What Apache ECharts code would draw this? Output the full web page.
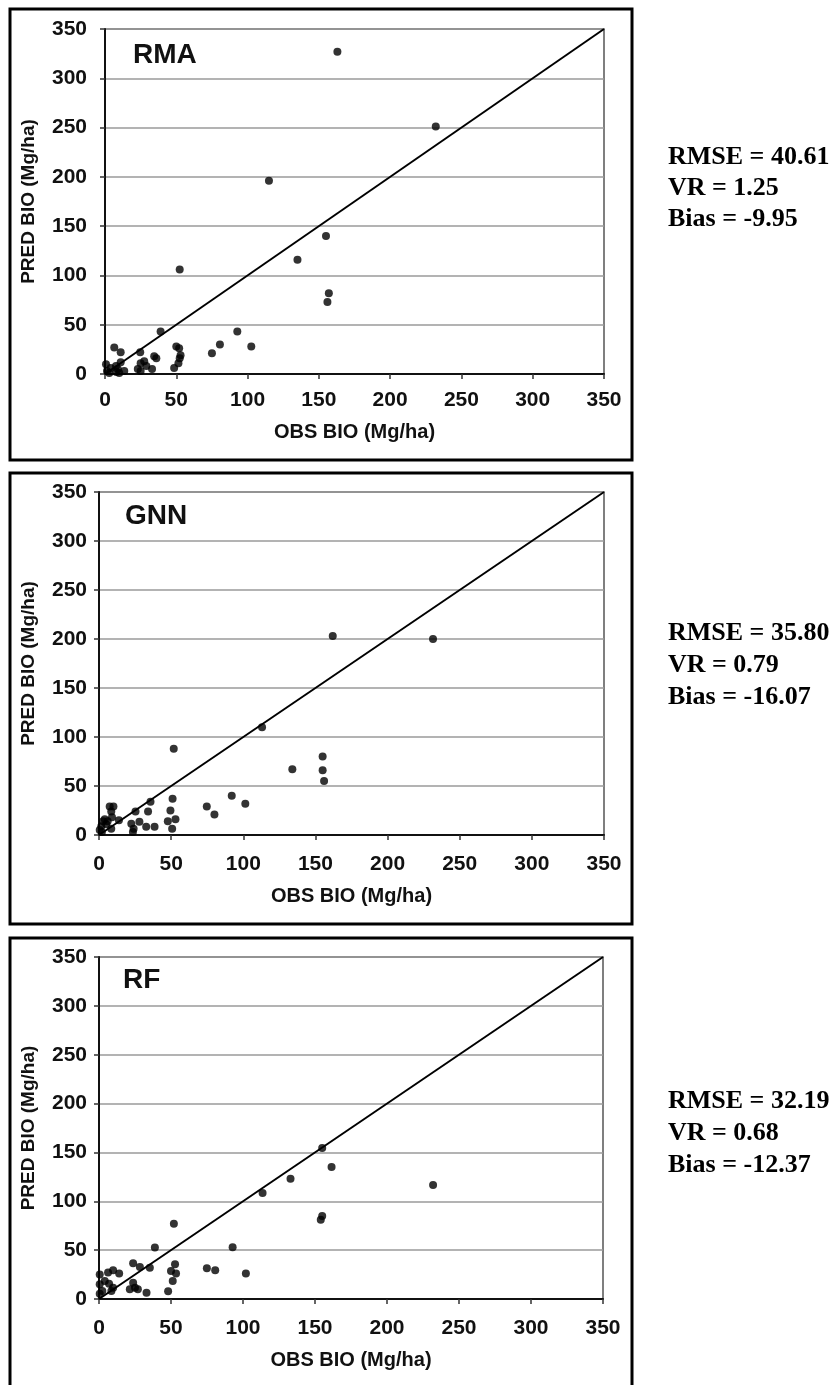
<!DOCTYPE html>
<html>
<head>
<meta charset="utf-8">
<script src="https://cdn.jsdelivr.net/npm/echarts@6/dist/echarts.min.js"></script>
<style>
html,body{margin:0;padding:0;background:#fff;}
#chart{width:832px;height:1385px;}
</style>
</head>
<body>
<div id="chart"></div>
<script>
// ---- data ----
const panelNames = ['RMA', 'GNN', 'RF'];
const axisTicks = [0, 50, 100, 150, 200, 250, 300, 350];
const oneToOne = [0, 350];

const rmaObs  = [0.7,1.4,3,4,6.5,7.7,9,10,11,11,13.5,8,23,25,25,24.7,27.5,29,33,34.5,36,39,48.5,50,51.5,52,52.4,53,52.4,75,80.6,92.8,102.6,115,135,155,156,157,163,232];
const rmaPred = [10,3,1,6,27,8,5,1,12,22,3,2,5,3,11,22,13,8,5,18,16,43,6,28,11,26,16,19,106,21,30,43,28,196,116,140,73,82,327,251];

const gnnObs  = [0.5,1.6,2.8,2,5,4,7.4,8.5,10,8.5,9,6,13.8,22.4,23.5,24,25.3,28,32.7,34,35.7,38.5,47.7,49.5,50.7,51,51.8,53,74.7,80,92,101.4,113,134,155,155,156,162,231.5];
const gnnPred = [5,9,14,3,11,16,29,24,29,6.5,18,14,15,11.6,3,6.5,24,13.6,8.5,24,34,8.5,14,25,6.5,37,88,16,29,21,40,32,110,67,80,66,55,203,200];

const rfObs  = [52,38.8,92.8,23.7,28.4,35.3,52.8,50,53.5,51.2,48,33,74.9,80.7,102,23.7,25,21.4,27,0.5,6.3,9.8,14,0.5,4,7,2.3,8.6,9.8,0.5,113.6,133,155,161.5,155,154,232];
const rfPred = [77,52.6,53,36.5,32.8,32,35.5,28.7,26,18.4,8,6.5,31.4,29.4,26,16.7,11.6,10,10,25,27,29.4,26,15,18.4,15.7,8.2,8.2,11.6,5.5,108.5,123,154.5,135,85,81,116.7];

const statsRMA = ['RMSE = 40.61', 'VR = 1.25', 'Bias = -9.95'];
const statsGNN = ['RMSE = 35.80', 'VR = 0.79', 'Bias = -16.07'];
const statsRF  = ['RMSE = 32.19', 'VR = 0.68', 'Bias = -12.37'];

// ---- layout ----
const zip = (a, b) => a.map((v, i) => [v, b[i]]);
const seriesData = [zip(rmaObs, rmaPred), zip(gnnObs, gnnPred), zip(rfObs, rfPred)];
const stats = [statsRMA, statsGNN, statsRF];

const grids = [
  {left: 105, top: 29, width: 499, height: 345},
  {left: 99, top: 492, width: 505, height: 343},
  {left: 99, top: 957, width: 504, height: 342}
];
const yLabelMargin = [18, 12, 12];
const xLabelMargin = [16, 19, 19];
const xNameGap = [48, 51, 51];
const yNameGap = [67, 61, 61];
const boxes = [
  {x: 10, y: 9, w: 622, h: 451},
  {x: 10, y: 473, w: 622, h: 451},
  {x: 10, y: 938, w: 622, h: 470}
];
const titlePos = [[133, 55], [125, 516], [123, 980]];
const statsX = 668;
const statsY = [[157, 188, 219], [633, 665, 697], [1101, 1133, 1165]];

const sans = 'Liberation Sans, Arial, sans-serif';
const serif = 'Liberation Serif, Times New Roman, serif';

const xAxes = [], yAxes = [], series = [], graphics = [];
grids.forEach((g, i) => {
  g.show = true;
  g.borderColor = '#555';
  g.borderWidth = 1.5;
  g.containLabel = false;
  xAxes.push({
    gridIndex: i, type: 'value', min: axisTicks[0], max: axisTicks[axisTicks.length - 1], interval: 50,
    axisLine: {show: true, onZero: false, lineStyle: {color: '#111', width: 2}},
    axisTick: {show: true, inside: false, length: 5, lineStyle: {color: '#333', width: 1.5}},
    axisLabel: {fontSize: 21, fontWeight: 'bold', color: '#111', fontFamily: sans, margin: xLabelMargin[i]},
    splitLine: {show: false},
    name: 'OBS BIO (Mg/ha)', nameLocation: 'middle', nameGap: xNameGap[i],
    nameTextStyle: {fontSize: 20, fontWeight: 'bold', color: '#111', fontFamily: sans}
  });
  yAxes.push({
    gridIndex: i, type: 'value', min: axisTicks[0], max: axisTicks[axisTicks.length - 1], interval: 50,
    axisLine: {show: true, onZero: false, lineStyle: {color: '#111', width: 2}},
    axisTick: {show: true, inside: false, length: 5, lineStyle: {color: '#333', width: 1.5}},
    axisLabel: {fontSize: 21, fontWeight: 'bold', color: '#111', fontFamily: sans, margin: yLabelMargin[i]},
    splitLine: {show: true, lineStyle: {color: '#9a9a9a', width: 1.5}},
    name: 'PRED BIO (Mg/ha)', nameLocation: 'middle', nameGap: yNameGap[i], nameRotate: 90,
    nameTextStyle: {fontSize: 19, fontWeight: 'bold', color: '#111', fontFamily: sans}
  });
  series.push({
    type: 'line', xAxisIndex: i, yAxisIndex: i, data: [[oneToOne[0], oneToOne[0]], [oneToOne[1], oneToOne[1]]],
    symbol: 'none', silent: true, lineStyle: {color: '#000', width: 2}, z: 2
  });
  series.push({
    type: 'scatter', xAxisIndex: i, yAxisIndex: i, data: seriesData[i],
    symbol: 'circle', symbolSize: 8, itemStyle: {color: '#000'}, z: 3
  });
  const b = boxes[i];
  graphics.push({
    type: 'rect', shape: {x: b.x, y: b.y, width: b.w, height: b.h},
    style: {fill: 'none', stroke: '#000', lineWidth: 3}, z: 10, silent: true
  });
  graphics.push({
    type: 'text', x: titlePos[i][0], y: titlePos[i][1],
    style: {text: panelNames[i], fontSize: 28, fontWeight: 'bold', fontFamily: sans, fill: '#111', verticalAlign: 'middle', align: 'left'},
    z: 10
  });
  stats[i].forEach((s, k) => {
    graphics.push({
      type: 'text', x: statsX, y: statsY[i][k],
      style: {text: s, fontSize: 26, fontWeight: 'bold', fontFamily: serif, fill: '#000', verticalAlign: 'middle', align: 'left'},
      z: 10
    });
  });
});

const chart = echarts.init(document.getElementById('chart'), null, {renderer: 'canvas'});
chart.setOption({
  animation: false,
  backgroundColor: '#fff',
  grid: grids,
  xAxis: xAxes,
  yAxis: yAxes,
  series: series,
  graphic: graphics
});
</script>
</body>
</html>
